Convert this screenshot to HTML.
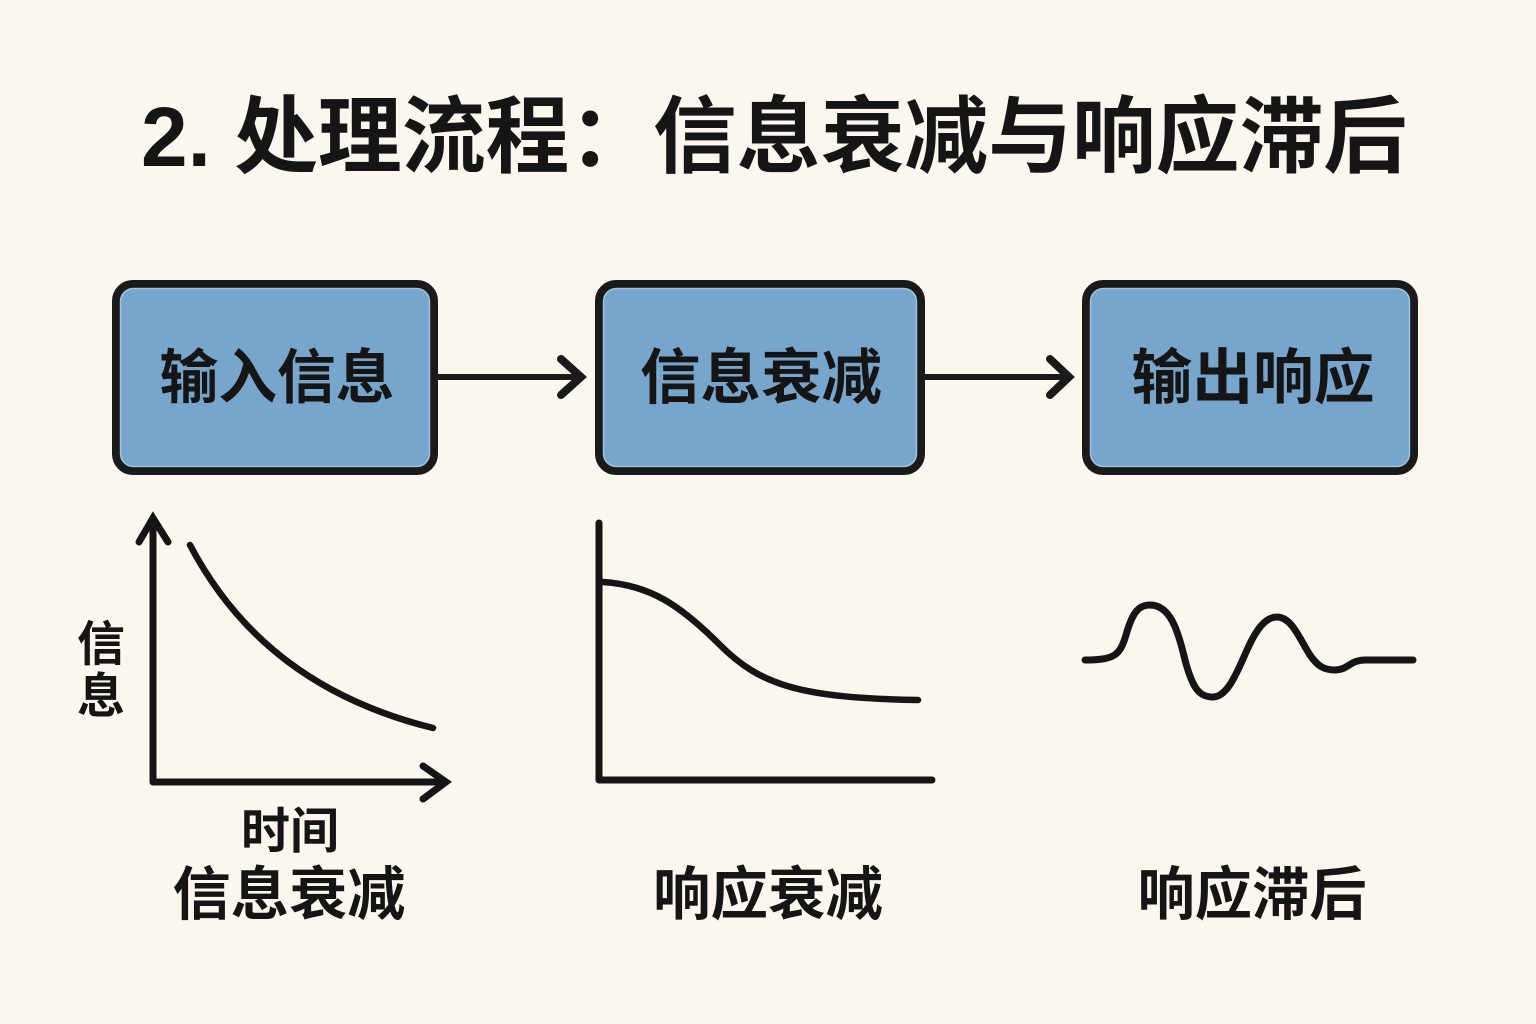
<!DOCTYPE html>
<html>
<head>
<meta charset="utf-8">
<style>
  html,body{margin:0;padding:0;background:#fbf7ef;}
  svg{display:block;}
  text{font-family:"Liberation Sans","Noto Sans CJK SC","WenQuanYi Zen Hei",sans-serif;font-weight:bold;fill:#151515;}
</style>
</head>
<body>
<svg width="1536" height="1024" viewBox="0 0 1536 1024" xmlns="http://www.w3.org/2000/svg">
  <rect width="1536" height="1024" fill="#fbf7ef"/>

  <!-- Title -->
  <text x="141" y="137" font-size="84" dominant-baseline="central" textLength="1266" lengthAdjust="spacingAndGlyphs">2. 处理流程：信息衰减与响应滞后</text>

  <!-- Boxes -->
  <g stroke="#1a1a1a" stroke-width="8" fill="#78a5cb">
    <rect x="116" y="284" width="318" height="187" rx="17"/>
    <rect x="599" y="284" width="322" height="187" rx="17"/>
    <rect x="1086" y="284" width="328" height="187" rx="17"/>
  </g>
  <g stroke="#a9cbe6" stroke-width="1.5" fill="none" opacity="0.8">
    <rect x="120.5" y="288.5" width="309" height="178" rx="13"/>
    <rect x="603.5" y="288.5" width="313" height="178" rx="13"/>
    <rect x="1090.5" y="288.5" width="319" height="178" rx="13"/>
  </g>

  <text x="277" y="378" font-size="59" text-anchor="middle" dominant-baseline="central" textLength="235" lengthAdjust="spacingAndGlyphs">输入信息</text>
  <text x="761" y="378" font-size="60" text-anchor="middle" dominant-baseline="central" textLength="242" lengthAdjust="spacingAndGlyphs">信息衰减</text>
  <text x="1253" y="378" font-size="60" text-anchor="middle" dominant-baseline="central" textLength="243" lengthAdjust="spacingAndGlyphs">输出响应</text>

  <!-- Arrows between boxes -->
  <g stroke="#1a1a1a" stroke-width="6" fill="none" stroke-linecap="butt">
    <line x1="438" y1="377" x2="578" y2="377"/>
    <line x1="925" y1="377" x2="1066" y2="377"/>
  </g>
  <g stroke="#1a1a1a" stroke-width="8" fill="none" stroke-linecap="round" stroke-linejoin="miter" stroke-miterlimit="6">
    <polyline points="561,359 581,377 561,395"/>
    <polyline points="1050,359 1069,377 1050,395"/>
  </g>

  <!-- Graph 1 -->
  <g stroke="#151515" stroke-width="7" fill="none" stroke-linecap="round" stroke-linejoin="round">
    <polyline points="153,519 153,782 445,782"/>
    <polyline points="139,542 153,518 168,542" stroke-linejoin="miter"/>
    <polyline points="423,766 446,782 423,799" stroke-linejoin="miter"/>
    <path d="M190,545 C240,640 320,700 433,728" stroke-width="6.5"/>
  </g>
  <text x="101" y="645" font-size="48" text-anchor="middle" dominant-baseline="central">信</text>
  <text x="101" y="697" font-size="48" text-anchor="middle" dominant-baseline="central">息</text>
  <text x="290" y="832" font-size="49" text-anchor="middle" dominant-baseline="central" textLength="98" lengthAdjust="spacingAndGlyphs">时间</text>
  <text x="289" y="895" font-size="58" text-anchor="middle" dominant-baseline="central" textLength="233" lengthAdjust="spacingAndGlyphs">信息衰减</text>

  <!-- Graph 2 -->
  <g stroke="#151515" stroke-width="7" fill="none" stroke-linecap="round" stroke-linejoin="round">
    <polyline points="599,523 599,780 932,780"/>
    <path d="M603,582 C650,585 680,605 720,645 C760,685 800,698 918,700" stroke-width="6.5"/>
  </g>
  <text x="768" y="895" font-size="58" text-anchor="middle" dominant-baseline="central" textLength="230" lengthAdjust="spacingAndGlyphs">响应衰减</text>

  <!-- Graph 3 wave -->
  <path d="M1085,660 C1115,660 1120,655 1126,635 C1133,610 1140,605 1150,605 C1170,605 1178,630 1185,660 C1193,690 1200,697 1213,697 C1228,697 1238,670 1247,650 C1256,630 1265,617 1277,617 C1292,617 1300,640 1310,655 C1318,667 1325,670 1335,670 C1348,670 1350,660 1365,660 L1413,660" stroke="#151515" stroke-width="7" fill="none" stroke-linecap="round" stroke-linejoin="round"/>
  <text x="1252" y="895" font-size="58" text-anchor="middle" dominant-baseline="central" textLength="229" lengthAdjust="spacingAndGlyphs">响应滞后</text>
</svg>
</body>
</html>
